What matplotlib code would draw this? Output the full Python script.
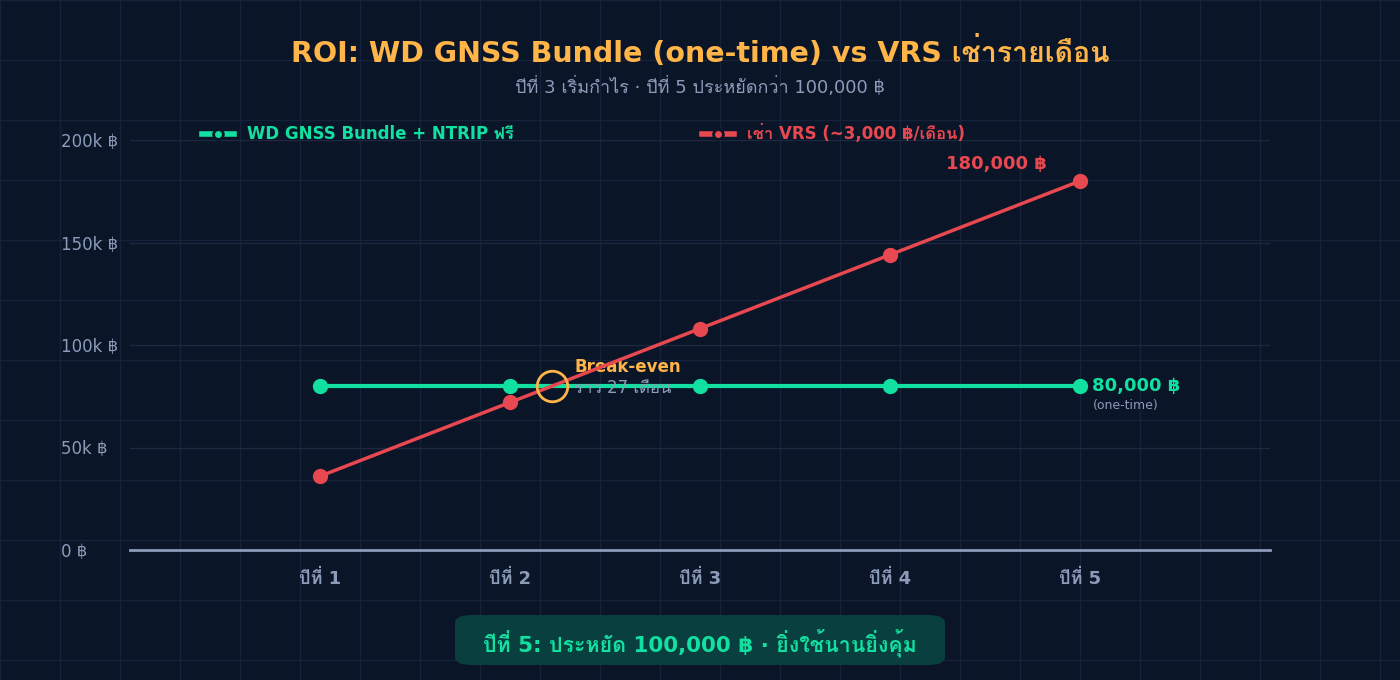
import matplotlib
matplotlib.use('Agg')
import matplotlib.pyplot as plt
from matplotlib import font_manager, ft2font
from matplotlib.lines import Line2D
from matplotlib.patches import FancyBboxPatch

# data
years = [1, 2, 3, 4, 5]
year_labels = ['ปีที่ 1', 'ปีที่ 2', 'ปีที่ 3', 'ปีที่ 4', 'ปีที่ 5']
bundle_cost = [80000, 80000, 80000, 80000, 80000]
vrs_cost = [36000, 72000, 108000, 144000, 180000]
y_ticks = [0, 50000, 100000, 150000, 200000]
y_tick_labels = ['0 ฿', '50k ฿', '100k ฿', '150k ฿', '200k ฿']
breakeven_year = 80000 / 36000

# look for any installed font that has Thai glyphs
thai_fams = []
for f in font_manager.fontManager.ttflist:
    if f.name in thai_fams:
        continue
    try:
        if 0x0E01 in ft2font.FT2Font(f.fname).get_charmap():
            thai_fams.append(f.name)
    except Exception:
        pass
plt.rcParams['font.family'] = ['DejaVu Sans'] + thai_fams[:2]

BG = '#0b1528'
GRID = '#15223a'
GREEN = '#12e0a0'
RED = '#e8484f'
ORANGE = '#ffb547'
GREY = '#8c9bb8'

fig = plt.figure(figsize=(14, 6.8), dpi=100, facecolor=BG)

# faint background grid over the whole figure
bg = fig.add_axes([0, 0, 1, 1], zorder=-5)
bg.set_facecolor(BG)
bg.set_xlim(0, 1400)
bg.set_ylim(680, 0)
for gx in range(0, 1401, 60):
    bg.axvline(gx, color=GRID, lw=1)
for gy in range(0, 681, 60):
    bg.axhline(gy, color=GRID, lw=1)
bg.axis('off')

ax = fig.add_axes([130 / 1400, 130 / 680, 1140 / 1400, 410 / 680])
ax.patch.set_alpha(0)
ax.set_xlim(0, 6)
ax.set_ylim(0, 200000)
for s in ['top', 'right', 'left']:
    ax.spines[s].set_visible(False)
ax.spines['bottom'].set_color('#8c9bb8')
ax.spines['bottom'].set_linewidth(2)
for t in y_ticks[1:]:
    ax.axhline(t, color='#1c2940', lw=1, zorder=0)

ax.plot(years, bundle_cost, color=GREEN, lw=3, marker='o', ms=10, zorder=3, clip_on=False)
ax.plot(years, vrs_cost, color=RED, lw=2.5, marker='o', ms=10, zorder=4, clip_on=False)

ax.set_xticks(years)
ax.set_xticklabels(year_labels, fontsize=13, fontweight='bold', color=GREY)
ax.set_yticks(y_ticks)
ax.set_yticklabels(y_tick_labels, fontsize=12, color=GREY)
ax.tick_params(axis='both', length=0)
ax.tick_params(axis='x', pad=14)
ax.tick_params(axis='y', pad=50)
for lab in ax.get_yticklabels():
    lab.set_horizontalalignment('left')

# break-even marker
ax.plot([breakeven_year], [80000], marker='o', ms=22, mfc='none', mec=ORANGE, mew=2, zorder=5)
ax.annotate('Break-even', (breakeven_year, 80000), xytext=(16, 7), textcoords='offset points',
            color=ORANGE, fontsize=12, fontweight='bold', va='bottom')
ax.annotate('ราว 27 เดือน', (breakeven_year, 80000), xytext=(16, 5), textcoords='offset points',
            color=GREY, fontsize=12, va='top')

ax.annotate('180,000 ฿', (years[-1], vrs_cost[-1]), xytext=(-60, 6), textcoords='offset points',
            color=RED, fontsize=13, fontweight='bold', ha='center', va='bottom')
ax.annotate('80,000 ฿', (years[-1], bundle_cost[-1]), xytext=(9, 0), textcoords='offset points',
            color=GREEN, fontsize=13, fontweight='bold', va='center')
ax.annotate('(one-time)', (years[-1], bundle_cost[-1]), xytext=(9, -9), textcoords='offset points',
            color=GREY, fontsize=9, va='top')

handles = [Line2D([], [], color=GREEN, lw=4, marker='o', ms=7, mec=BG, mew=2),
           Line2D([], [], color=RED, lw=4, marker='o', ms=7, mec=BG, mew=2)]
leg = ax.legend(handles, ['WD GNSS Bundle + NTRIP ฟรี', 'เช่า VRS (~3,000 ฿/เดือน)'],
                loc='lower left', bbox_to_anchor=(0.05, 0.955), ncol=2, frameon=False,
                handlelength=1.9, handletextpad=0.8, columnspacing=11.3,
                prop={'size': 12, 'weight': 'bold'})
leg.get_texts()[0].set_color(GREEN)
leg.get_texts()[1].set_color(RED)

fig.text(0.5, 1 - 52 / 680, 'ROI: WD GNSS Bundle (one-time) vs VRS เช่ารายเดือน',
         ha='center', va='center', color=ORANGE, fontsize=20.5, fontweight='bold')
fig.text(0.5, 1 - 87 / 680, 'ปีที่ 3 เริ่มกำไร · ปีที่ 5 ประหยัดกว่า 100,000 ฿',
         ha='center', va='center', color=GREY, fontsize=13)

box = FancyBboxPatch((455 / 1400, 1 - 665 / 680), 490 / 1400, 50 / 680,
                     boxstyle='round,pad=0,rounding_size=0.012', transform=fig.transFigure,
                     facecolor='#0a3f3f', edgecolor='none')
fig.patches.append(box)
fig.text(0.5, 1 - 643 / 680, 'ปีที่ 5: ประหยัด 100,000 ฿ · ยิ่งใช้นานยิ่งคุ้ม',
         ha='center', va='center', color=GREEN, fontsize=15.4, fontweight='bold')

fig.savefig('out.png', dpi=100, facecolor=BG)
